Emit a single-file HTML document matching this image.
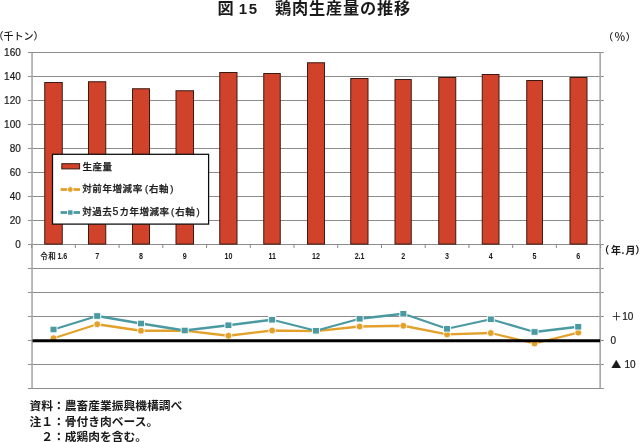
<!DOCTYPE html>
<html lang="ja"><head><meta charset="utf-8"><title>図15 鶏肉生産量の推移</title>
<style>
html,body{margin:0;padding:0;background:#fff;}
body{width:640px;height:442px;overflow:hidden;font-family:"Liberation Sans","Noto Sans CJK JP",sans-serif;}
svg{display:block}
svg text{font-family:"Liberation Sans","Noto Sans CJK JP",sans-serif;fill:#1a1a1a}
.num{font-size:10px;stroke:#1a1a1a;stroke-width:0.2px}
.cat{font-size:8.4px;font-weight:bold}
.catk{font-size:7.5px;font-weight:bold;letter-spacing:0.5px}
.lab{font-size:10px;font-weight:500}
.leg{font-size:9.5px;font-weight:500;letter-spacing:0.5px;stroke:#1a1a1a;stroke-width:0.25px}
.note{font-size:11.75px;font-weight:bold}
.title{font-size:16.2px;font-weight:bold}
.tnum{font-size:15px;font-weight:bold}
</style></head><body>
<svg width="640" height="442" viewBox="0 0 640 442">
<rect width="640" height="442" fill="#ffffff"/>
<g stroke="#8c8c8c" stroke-width="1.05" fill="none">
<line x1="28.0" y1="52.40" x2="603.8000000000001" y2="52.40"/>
<line x1="28.0" y1="76.40" x2="603.8000000000001" y2="76.40"/>
<line x1="28.0" y1="100.40" x2="603.8000000000001" y2="100.40"/>
<line x1="28.0" y1="124.40" x2="603.8000000000001" y2="124.40"/>
<line x1="28.0" y1="148.40" x2="603.8000000000001" y2="148.40"/>
<line x1="28.0" y1="172.40" x2="603.8000000000001" y2="172.40"/>
<line x1="28.0" y1="196.40" x2="603.8000000000001" y2="196.40"/>
<line x1="28.0" y1="220.40" x2="603.8000000000001" y2="220.40"/>
<line x1="28.0" y1="244.40" x2="603.8000000000001" y2="244.40"/>
<line x1="28.0" y1="268.40" x2="603.8000000000001" y2="268.40"/>
<line x1="28.0" y1="292.40" x2="603.8000000000001" y2="292.40"/>
<line x1="28.0" y1="316.40" x2="603.8000000000001" y2="316.40"/>
<line x1="28.0" y1="340.40" x2="603.8000000000001" y2="340.40"/>
<line x1="28.0" y1="364.40" x2="603.8000000000001" y2="364.40"/>
<line x1="28.0" y1="388.40" x2="603.8000000000001" y2="388.40"/>
<line x1="32.05" y1="52.4" x2="32.05" y2="388.40" stroke="#a8a8a8" stroke-width="1.6"/>
<line x1="600.15" y1="52.4" x2="600.15" y2="388.40" stroke="#a6a6a6" stroke-width="1.6"/>
<line x1="31.63" y1="244.40" x2="31.63" y2="247.90"/>
<line x1="75.36" y1="244.40" x2="75.36" y2="247.90"/>
<line x1="119.09" y1="244.40" x2="119.09" y2="247.90"/>
<line x1="162.82" y1="244.40" x2="162.82" y2="247.90"/>
<line x1="206.55" y1="244.40" x2="206.55" y2="247.90"/>
<line x1="250.28" y1="244.40" x2="250.28" y2="247.90"/>
<line x1="294.01" y1="244.40" x2="294.01" y2="247.90"/>
<line x1="337.74" y1="244.40" x2="337.74" y2="247.90"/>
<line x1="381.47" y1="244.40" x2="381.47" y2="247.90"/>
<line x1="425.20" y1="244.40" x2="425.20" y2="247.90"/>
<line x1="468.93" y1="244.40" x2="468.93" y2="247.90"/>
<line x1="512.66" y1="244.40" x2="512.66" y2="247.90"/>
<line x1="556.39" y1="244.40" x2="556.39" y2="247.90"/>
<line x1="600.60" y1="244.40" x2="600.60" y2="247.90"/>
</g>
<g fill="#d0432a" stroke="#3a1a12" stroke-width="1">
<rect x="44.75" y="82.50" width="17.50" height="161.60"/>
<rect x="88.50" y="81.75" width="17.25" height="162.35"/>
<rect x="132.50" y="88.75" width="17.00" height="155.35"/>
<rect x="176.00" y="90.75" width="17.50" height="153.35"/>
<rect x="219.75" y="72.50" width="17.25" height="171.60"/>
<rect x="263.75" y="73.50" width="16.50" height="170.60"/>
<rect x="307.50" y="62.75" width="17.00" height="181.35"/>
<rect x="350.75" y="78.50" width="17.25" height="165.60"/>
<rect x="395.00" y="79.50" width="16.25" height="164.60"/>
<rect x="438.75" y="77.50" width="17.00" height="166.60"/>
<rect x="482.25" y="74.50" width="16.75" height="169.60"/>
<rect x="526.75" y="80.50" width="15.75" height="163.60"/>
<rect x="570.00" y="77.50" width="17.00" height="166.60"/>
</g>
<polyline points="53.50,338.25 97.23,324.25 140.96,330.75 184.69,330.70 228.42,335.75 272.15,330.50 315.88,331.20 359.61,326.50 403.34,325.75 447.07,334.40 490.80,333.00 534.53,343.50 578.26,332.60" fill="none" stroke="#e3a12c" stroke-width="2.3" stroke-linejoin="round"/>
<circle cx="53.50" cy="338.25" r="3.5" fill="#e3a12c" stroke="#fff" stroke-width="0.9"/>
<circle cx="97.23" cy="324.25" r="3.5" fill="#e3a12c" stroke="#fff" stroke-width="0.9"/>
<circle cx="140.96" cy="330.75" r="3.5" fill="#e3a12c" stroke="#fff" stroke-width="0.9"/>
<circle cx="184.69" cy="330.70" r="3.5" fill="#e3a12c" stroke="#fff" stroke-width="0.9"/>
<circle cx="228.42" cy="335.75" r="3.5" fill="#e3a12c" stroke="#fff" stroke-width="0.9"/>
<circle cx="272.15" cy="330.50" r="3.5" fill="#e3a12c" stroke="#fff" stroke-width="0.9"/>
<circle cx="315.88" cy="331.20" r="3.5" fill="#e3a12c" stroke="#fff" stroke-width="0.9"/>
<circle cx="359.61" cy="326.50" r="3.5" fill="#e3a12c" stroke="#fff" stroke-width="0.9"/>
<circle cx="403.34" cy="325.75" r="3.5" fill="#e3a12c" stroke="#fff" stroke-width="0.9"/>
<circle cx="447.07" cy="334.40" r="3.5" fill="#e3a12c" stroke="#fff" stroke-width="0.9"/>
<circle cx="490.80" cy="333.00" r="3.5" fill="#e3a12c" stroke="#fff" stroke-width="0.9"/>
<circle cx="534.53" cy="343.50" r="3.5" fill="#e3a12c" stroke="#fff" stroke-width="0.9"/>
<circle cx="578.26" cy="332.60" r="3.5" fill="#e3a12c" stroke="#fff" stroke-width="0.9"/>
<polyline points="53.50,329.50 97.23,316.00 140.96,323.50 184.69,330.50 228.42,325.25 272.15,319.75 315.88,330.75 359.61,318.75 403.34,313.75 447.07,328.75 490.80,319.25 534.53,332.00 578.26,326.75" fill="none" stroke="#4b9aa2" stroke-width="2.3" stroke-linejoin="round"/>
<rect x="50.00" y="326.20" width="7" height="6.6" fill="#4b9aa2" stroke="#fff" stroke-width="0.9"/>
<rect x="93.73" y="312.70" width="7" height="6.6" fill="#4b9aa2" stroke="#fff" stroke-width="0.9"/>
<rect x="137.46" y="320.20" width="7" height="6.6" fill="#4b9aa2" stroke="#fff" stroke-width="0.9"/>
<rect x="181.19" y="327.20" width="7" height="6.6" fill="#4b9aa2" stroke="#fff" stroke-width="0.9"/>
<rect x="224.92" y="321.95" width="7" height="6.6" fill="#4b9aa2" stroke="#fff" stroke-width="0.9"/>
<rect x="268.65" y="316.45" width="7" height="6.6" fill="#4b9aa2" stroke="#fff" stroke-width="0.9"/>
<rect x="312.38" y="327.45" width="7" height="6.6" fill="#4b9aa2" stroke="#fff" stroke-width="0.9"/>
<rect x="356.11" y="315.45" width="7" height="6.6" fill="#4b9aa2" stroke="#fff" stroke-width="0.9"/>
<rect x="399.84" y="310.45" width="7" height="6.6" fill="#4b9aa2" stroke="#fff" stroke-width="0.9"/>
<rect x="443.57" y="325.45" width="7" height="6.6" fill="#4b9aa2" stroke="#fff" stroke-width="0.9"/>
<rect x="487.30" y="315.95" width="7" height="6.6" fill="#4b9aa2" stroke="#fff" stroke-width="0.9"/>
<rect x="531.03" y="328.70" width="7" height="6.6" fill="#4b9aa2" stroke="#fff" stroke-width="0.9"/>
<rect x="574.76" y="323.45" width="7" height="6.6" fill="#4b9aa2" stroke="#fff" stroke-width="0.9"/>
<line x1="32.5" y1="340.70" x2="600.1" y2="340.70" stroke="#000" stroke-width="3"/>
<rect x="52.5" y="154.3" width="156.1" height="69.8" fill="#fff" stroke="#0a0a0a" stroke-width="1.25"/>
<rect x="61.8" y="163.7" width="17.8" height="5.2" fill="#d0432a" stroke="#3a1a12" stroke-width="1"/>
<text class="leg" x="82.4" y="170.1">生産量</text>
<line x1="60.6" y1="189.5" x2="80" y2="189.5" stroke="#e3a12c" stroke-width="2.8"/>
<circle cx="70.3" cy="189.5" r="2.9" fill="#e3a12c" stroke="#fff" stroke-width="1"/>
<text class="leg" y="192.3"><tspan x="82.2" letter-spacing="0.6">対前年増減率</tspan><tspan x="144.9">(</tspan><tspan x="149.1">右軸</tspan><tspan x="170.3">)</tspan></text>
<line x1="60.6" y1="212.5" x2="80" y2="212.5" stroke="#4b9aa2" stroke-width="2.8"/>
<rect x="67.6" y="209.8" width="5.4" height="5.4" fill="#4b9aa2" stroke="#fff" stroke-width="1"/>
<text class="leg" y="215.3"><tspan x="82.2">対過去</tspan><tspan x="112.4" font-size="10.6">5</tspan><tspan x="119.4">カ年増減率</tspan><tspan x="171.1">(</tspan><tspan x="175.2">右軸</tspan><tspan x="196.4">)</tspan></text>
<text class="num" x="20.8" y="55.80" text-anchor="end">160</text>
<text class="num" x="20.8" y="79.80" text-anchor="end">140</text>
<text class="num" x="20.8" y="103.80" text-anchor="end">120</text>
<text class="num" x="20.8" y="127.80" text-anchor="end">100</text>
<text class="num" x="20.8" y="151.80" text-anchor="end">80</text>
<text class="num" x="20.8" y="175.80" text-anchor="end">60</text>
<text class="num" x="20.8" y="199.80" text-anchor="end">40</text>
<text class="num" x="20.8" y="223.80" text-anchor="end">20</text>
<text class="num" x="20.8" y="247.80" text-anchor="end">0</text>
<text class="num" y="319.70"><tspan x="611.4">＋</tspan><tspan x="622.2">10</tspan></text>
<text class="num" x="610.4" y="343.70">0</text>
<text class="num" y="367.70"><tspan x="611.2" style="font-family:'Noto Sans CJK JP',sans-serif">▲</tspan><tspan x="624.4">10</tspan></text>
<text class="catk" x="40.2" y="258.8">令和</text>
<g transform="translate(57.4,259) scale(0.85,1)"><text class="cat" x="0" y="0">1.6</text></g>
<g transform="translate(97.23,259) scale(0.85,1)"><text class="cat" x="0" y="0" text-anchor="middle">7</text></g>
<g transform="translate(140.96,259) scale(0.85,1)"><text class="cat" x="0" y="0" text-anchor="middle">8</text></g>
<g transform="translate(184.69,259) scale(0.85,1)"><text class="cat" x="0" y="0" text-anchor="middle">9</text></g>
<g transform="translate(228.42,259) scale(0.85,1)"><text class="cat" x="0" y="0" text-anchor="middle">10</text></g>
<g transform="translate(272.15,259) scale(0.85,1)"><text class="cat" x="0" y="0" text-anchor="middle">11</text></g>
<g transform="translate(315.88,259) scale(0.85,1)"><text class="cat" x="0" y="0" text-anchor="middle">12</text></g>
<g transform="translate(359.61,259) scale(0.85,1)"><text class="cat" x="0" y="0" text-anchor="middle">2.1</text></g>
<g transform="translate(403.34,259) scale(0.85,1)"><text class="cat" x="0" y="0" text-anchor="middle">2</text></g>
<g transform="translate(447.07,259) scale(0.85,1)"><text class="cat" x="0" y="0" text-anchor="middle">3</text></g>
<g transform="translate(490.80,259) scale(0.85,1)"><text class="cat" x="0" y="0" text-anchor="middle">4</text></g>
<g transform="translate(534.53,259) scale(0.85,1)"><text class="cat" x="0" y="0" text-anchor="middle">5</text></g>
<g transform="translate(578.26,259) scale(0.85,1)"><text class="cat" x="0" y="0" text-anchor="middle">6</text></g>
<text class="lab" x="-6.4" y="39.8">（千トン）</text>
<text class="lab" y="41.2"><tspan x="603.3">（</tspan><tspan x="614.3" font-size="11.2">％</tspan><tspan x="625.8">）</tspan></text>
<text class="lab" y="253.6" style="font-weight:bold"><tspan x="599.3">（</tspan><tspan x="611">年</tspan><tspan x="621.6">.</tspan><tspan x="625.6">月</tspan><tspan x="635.2">）</tspan></text>
<text class="title" y="14.4"><tspan x="217.6">図</tspan><tspan class="tnum" x="238.7">1</tspan><tspan class="tnum" x="248.7">5</tspan><tspan x="275.1" letter-spacing="0.8">鶏肉生産量の推移</tspan></text>
<text class="note" x="29.5" y="409.5">資料：農畜産業振興機構調べ</text>
<text class="note" x="29.5" y="425.6">注１：骨付き肉ベース。</text>
<text class="note" x="29.5" y="441">　２：成鶏肉を含む。</text>
</svg></body></html>
